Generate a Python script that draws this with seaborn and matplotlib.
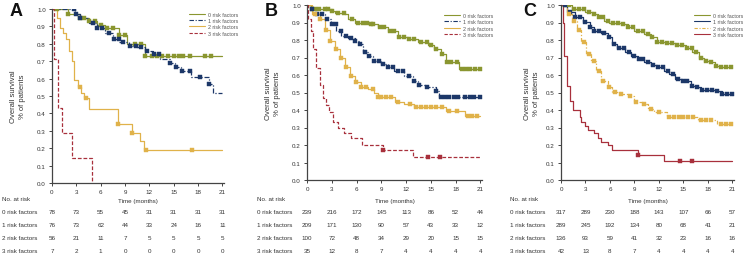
import numpy as np
import pandas as pd
import matplotlib
matplotlib.use("Agg")
import matplotlib.pyplot as plt
import matplotlib.transforms as mtransforms
from matplotlib.lines import Line2D
import seaborn as sns

sns.set_style("ticks")
plt.rcParams['font.family'] = ['Liberation Sans', 'DejaVu Sans']

# ---- data ----
groups = ['0 risk factors', '1 risk factors', '2 risk factors', '3 risk factors']
time_ticks = [0, 3, 6, 9, 12, 15, 18, 21]

# Panel A
a0_t = [0, 0.6, 2.0, 3.4, 4.5, 5.5, 6.5, 8.3, 9.3, 11.5, 21]
a0_s = [1.0, 1.0, 0.97, 0.95, 0.93, 0.91, 0.89, 0.85, 0.80, 0.73, 0.73]
a1_t = [0, 2.8, 3.5, 4.5, 5.5, 6.5, 7.5, 8.3, 9.5, 10.5, 11.5, 12.5, 13.3, 14.5, 15.1, 15.9, 17.1, 19.3, 19.9, 21]
a1_s = [1.0, 0.97, 0.95, 0.92, 0.89, 0.86, 0.83, 0.81, 0.79, 0.78, 0.76, 0.74, 0.71, 0.69, 0.665, 0.645, 0.61, 0.57, 0.52, 0.52]
a2_t = [0, 0.6, 1.0, 1.3, 1.7, 2.1, 2.5, 2.7, 3.2, 3.6, 4.0, 4.5, 8.1, 9.8, 10.9, 11.3, 21]
a2_s = [1.0, 0.95, 0.89, 0.86, 0.83, 0.76, 0.70, 0.59, 0.55, 0.52, 0.49, 0.425, 0.34, 0.29, 0.24, 0.19, 0.19]
a3_t = [0, 0.3, 0.8, 1.2, 2.5, 4.9]
a3_s = [1.0, 0.714, 0.429, 0.286, 0.143, 0.0]
a0_cens = [0.6, 2.0, 3.5, 4.0, 4.5, 5.3, 6.0, 6.8, 7.5, 8.3, 9.0, 10.2, 11.0, 11.5, 12.3, 13.0, 13.6, 14.3, 15.0, 15.6, 16.2, 17.0, 18.8, 19.6]
a1_cens = [2.7, 3.0, 3.5, 5.0, 5.5, 6.2, 7.0, 7.7, 8.2, 8.8, 9.6, 10.3, 11.0, 11.7, 12.6, 13.2, 14.5, 15.3, 16.0, 17.0, 18.2, 19.4]
a2_cens = [3.4, 4.2, 8.1, 9.8, 11.6, 17.2]
a3_cens = []

# Panel B
b0_t = [0, 0.5, 3.0, 3.4, 4.6, 5.0, 5.8, 7.6, 8.6, 9.8, 11.0, 12.2, 13.4, 14.6, 15.4, 16.2, 16.8, 18.4, 21]
b0_s = [1.0, 0.977, 0.966, 0.957, 0.948, 0.92, 0.897, 0.89, 0.872, 0.853, 0.815, 0.806, 0.787, 0.772, 0.749, 0.72, 0.674, 0.632, 0.632]
b1_t = [0, 0.56, 1.16, 2.16, 2.96, 3.56, 4.16, 4.96, 5.76, 6.36, 6.76, 7.36, 7.96, 8.96, 9.76, 10.56, 11.8, 12.8, 13.4, 14.4, 15.6, 16.0, 21]
b1_s = [1.0, 0.98, 0.948, 0.92, 0.89, 0.853, 0.825, 0.81, 0.796, 0.777, 0.73, 0.71, 0.682, 0.663, 0.644, 0.625, 0.596, 0.568, 0.543, 0.53, 0.51, 0.476, 0.476]
b2_t = [0, 0.56, 1.56, 2.16, 2.76, 3.36, 3.96, 4.56, 5.16, 5.76, 6.56, 7.36, 8.16, 8.56, 10.6, 11.8, 13.0, 16.8, 19.2, 21]
b2_s = [1.0, 0.95, 0.92, 0.857, 0.796, 0.749, 0.70, 0.644, 0.597, 0.558, 0.53, 0.52, 0.50, 0.472, 0.448, 0.434, 0.415, 0.396, 0.367, 0.367]
b3_t = [0, 0.12, 0.44, 0.72, 1.12, 1.52, 1.92, 2.32, 2.72, 3.12, 3.72, 4.52, 5.32, 6.72, 9.16, 12.8, 21]
b3_s = [1.0, 0.92, 0.85, 0.75, 0.64, 0.543, 0.467, 0.43, 0.39, 0.334, 0.296, 0.267, 0.239, 0.20, 0.173, 0.13, 0.13]
b0_cens = [0.6, 1.0, 1.5, 2.2, 2.6, 3.0, 3.8, 4.5, 5.5, 6.2, 6.8, 7.3, 7.7, 8.0, 8.8, 9.3, 10.0, 10.5, 11.2, 11.8, 12.4, 13.0, 13.8, 14.5, 15.0, 15.6, 16.3, 17.0, 17.5, 18.2, 18.8, 19.3, 19.8, 20.4, 20.9]
b1_cens = [0.6, 1.2, 1.8, 2.4, 3.0, 3.5, 4.1, 4.7, 5.3, 5.8, 6.4, 7.0, 7.5, 8.1, 8.7, 9.2, 9.8, 10.4, 11.0, 11.6, 12.3, 13.0, 13.6, 14.5, 15.6, 16.2, 16.7, 17.2, 17.8, 18.3, 19.2, 19.7, 20.2, 20.9]
b2_cens = [1.0, 1.6, 2.3, 2.8, 3.5, 4.1, 4.7, 5.3, 5.9, 6.6, 7.2, 8.0, 8.6, 9.0, 9.6, 10.2, 11.0, 12.5, 13.2, 13.8, 14.4, 15.0, 15.6, 16.3, 17.2, 18.2, 19.5, 20.0, 20.6]
b3_cens = [9.2, 14.7, 16.1]

# Panel C
c0_t = [0, 1.3, 2.9, 3.9, 4.5, 5.3, 5.9, 7.4, 8.2, 9.0, 10.2, 11.0, 11.8, 13.0, 14.0, 15.3, 16.1, 16.9, 17.5, 18.3, 18.9, 19.5, 21]
c0_s = [1.0, 0.98, 0.962, 0.949, 0.934, 0.91, 0.897, 0.891, 0.872, 0.853, 0.834, 0.815, 0.79, 0.783, 0.772, 0.753, 0.73, 0.70, 0.68, 0.674, 0.654, 0.646, 0.646]
c1_t = [0, 0.7, 1.7, 2.7, 3.5, 4.1, 4.9, 5.7, 6.3, 6.9, 7.8, 8.6, 9.4, 10.2, 11.0, 11.8, 12.6, 13.2, 14.0, 14.8, 15.9, 16.7, 17.1, 19.1, 19.7, 21]
c1_s = [1.0, 0.962, 0.934, 0.905, 0.876, 0.853, 0.838, 0.82, 0.78, 0.757, 0.73, 0.71, 0.691, 0.672, 0.657, 0.644, 0.625, 0.606, 0.58, 0.568, 0.539, 0.53, 0.516, 0.51, 0.49, 0.486]
c2_t = [0, 0.7, 1.3, 1.9, 2.5, 3.1, 3.7, 4.3, 4.9, 5.7, 6.3, 7.2, 8.2, 9.0, 10.0, 10.6, 11.4, 13.0, 16.8, 19.1, 21]
c2_s = [1.0, 0.95, 0.91, 0.857, 0.79, 0.72, 0.682, 0.625, 0.568, 0.53, 0.505, 0.49, 0.482, 0.444, 0.434, 0.406, 0.387, 0.36, 0.345, 0.32, 0.32]
c3_t = [0, 0.3, 0.4, 0.7, 1.1, 1.5, 2.3, 2.5, 2.9, 3.3, 4.1, 4.5, 4.9, 5.7, 6.3, 9.4, 12.6, 21]
c3_s = [1.0, 0.9, 0.71, 0.54, 0.45, 0.40, 0.36, 0.33, 0.31, 0.285, 0.267, 0.239, 0.22, 0.20, 0.172, 0.145, 0.107, 0.107]
c0_cens = [0.5, 1.0, 1.6, 2.2, 2.8, 3.4, 4.0, 4.6, 5.2, 5.8, 6.4, 7.0, 7.6, 8.2, 8.8, 9.4, 10.0, 10.6, 11.2, 11.8, 12.4, 13.0, 13.6, 14.2, 14.8, 15.4, 16.0, 16.6, 17.2, 17.8, 18.4, 19.0, 19.6, 20.2, 20.8]
c1_cens = [0.5, 1.1, 1.7, 2.3, 2.9, 3.5, 4.1, 4.7, 5.3, 5.9, 6.5, 7.1, 7.7, 8.3, 8.9, 9.5, 10.1, 10.7, 11.3, 11.9, 12.5, 13.1, 13.7, 14.3, 14.9, 15.5, 16.1, 16.7, 17.3, 17.9, 18.5, 19.1, 19.7, 20.3, 20.9]
c2_cens = [1.0, 1.6, 2.2, 2.8, 3.4, 4.0, 4.6, 5.2, 5.9, 6.6, 7.4, 8.4, 9.2, 10.2, 11.0, 12.0, 13.2, 13.8, 14.4, 15.0, 15.6, 16.2, 17.2, 17.8, 18.4, 19.6, 20.2, 20.8]
c3_cens = [9.4, 14.6, 16.1]

# numbers at risk
risk_a = [[78, 73, 55, 45, 31, 31, 31, 31],
          [76, 73, 62, 44, 33, 24, 16, 11],
          [56, 21, 11, 7, 5, 5, 5, 5],
          [7, 2, 1, 0, 0, 0, 0, 0]]
risk_b = [[239, 216, 172, 145, 113, 86, 52, 44],
          [209, 171, 130, 90, 57, 43, 33, 12],
          [100, 72, 48, 34, 29, 20, 15, 15],
          [35, 12, 8, 7, 4, 4, 4, 4]]
risk_c = [[317, 289, 230, 188, 143, 107, 66, 57],
          [289, 245, 192, 134, 80, 68, 41, 21],
          [136, 93, 59, 41, 32, 23, 16, 16],
          [42, 13, 8, 7, 4, 4, 4, 4]]

colors = ['#8a9630', '#1c3768', '#e0b24a', '#a8303c']
styles_ab = ['-', (0, (4, 1.5, 1, 1.5)), '-', (0, (3, 1.5))]
styles_c = ['-', '-', (0, (3, 1.5, 1, 1.5)), '-']

panels = [
    dict(letter='A', box=(52, 10, 224, 184),
         curves=[(a0_t, a0_s, a0_cens), (a1_t, a1_s, a1_cens), (a2_t, a2_s, a2_cens), (a3_t, a3_s, a3_cens)],
         risk=risk_a, styles=styles_ab, lab_x=2, letter_x=10, ylab_x=18, leg=(1.10, 1.0)),
    dict(letter='B', box=(307, 6, 482, 181),
         curves=[(b0_t, b0_s, b0_cens), (b1_t, b1_s, b1_cens), (b2_t, b2_s, b2_cens), (b3_t, b3_s, b3_cens)],
         risk=risk_b, styles=styles_ab, lab_x=257, letter_x=265, ylab_x=273, leg=(1.08, 0.97)),
    dict(letter='C', box=(561, 6, 734, 181),
         curves=[(c0_t, c0_s, c0_cens), (c1_t, c1_s, c1_cens), (c2_t, c2_s, c2_cens), (c3_t, c3_s, c3_cens)],
         risk=risk_c, styles=styles_c, lab_x=510, letter_x=523, ylab_x=532, leg=(1.07, 0.97)),
]

W, H = 743, 255
fig = plt.figure(figsize=(W / 100, H / 100), dpi=100)
txt = '#333333'

for p in panels:
    x0, y0, x1, y1 = p['box']
    ax = fig.add_axes([x0 / W, 1 - y1 / H, (x1 - x0) / W, (y1 - y0) / H])
    handles = []
    for i, (t, s, cens) in enumerate(p['curves']):
        df = pd.DataFrame({'time': t, 'surv': s})
        sns.lineplot(data=df, x='time', y='surv', drawstyle='steps-post', sort=False,
                     color=colors[i], linestyle=p['styles'][i], linewidth=0.9, ax=ax)
        if cens:
            idx = np.searchsorted(np.array(t), np.array(cens), side='right') - 1
            cdf = pd.DataFrame({'time': cens, 'surv': np.array(s)[idx]})
            sns.scatterplot(data=cdf, x='time', y='surv', marker='s', s=7, color=colors[i],
                            edgecolor=colors[i], linewidth=0.3, ax=ax, zorder=3)
        handles.append(Line2D([0], [0], color=colors[i], linestyle=p['styles'][i], linewidth=0.8))
    ax.set_xlim(0, 21.2)
    ax.set_ylim(0, 1.0)
    ax.set_xticks(time_ticks)
    ax.set_yticks(np.arange(11) / 10)
    ax.set_yticklabels([f'{v / 10:.1f}' for v in range(11)])
    ax.tick_params(labelsize=4.5, length=2.5, width=0.7, colors='#444444', labelcolor=txt, pad=2)
    for side in ['top', 'right']:
        ax.spines[side].set_visible(False)
    for side in ['left', 'bottom']:
        ax.spines[side].set_color('#444444')
        ax.spines[side].set_linewidth(0.9)
    ax.set_xlabel('')
    ax.set_ylabel('')
    ax.margins(0)
    leg = ax.legend(handles, groups, loc='upper right', bbox_to_anchor=p['leg'], frameon=False,
                    fontsize=3.8, handlelength=3.0, labelspacing=0.25, handletextpad=0.6, borderpad=0)
    for tx in leg.get_texts():
        tx.set_color('#555555')

    # labels
    fig.text(p['letter_x'] / W, 1 - 11 / H, p['letter'], fontsize=13, fontweight='bold',
             ha='left', va='center', color='#111111')
    fig.text(p['ylab_x'] / W, 1 - ((y0 + y1) / 2) / H, 'Overall survival\n% of patients',
             rotation=90, fontsize=5.5, ha='center', va='center', color=txt, linespacing=1.3)
    fig.text(((x0 + x1) / 2) / W, 1 - 202 / H, 'Time (months)', fontsize=4.5, ha='center',
             va='center', color=txt)
    fig.text(p['lab_x'] / W, 1 - 200 / H, 'No. at risk', fontsize=4.5, ha='left', va='center', color=txt)

    trans = mtransforms.blended_transform_factory(ax.transData, fig.transFigure)
    for r, row in enumerate(p['risk']):
        yy = 1 - (213 + 13 * r) / H
        fig.text(p['lab_x'] / W, yy, groups[r], fontsize=4.5, ha='left', va='center', color=txt)
        for tk, n in zip(time_ticks, row):
            ax.text(tk, yy, str(n), transform=trans, fontsize=4.5, ha='center', va='center',
                    color=txt, clip_on=False)

fig.savefig('out.png', dpi=100)
